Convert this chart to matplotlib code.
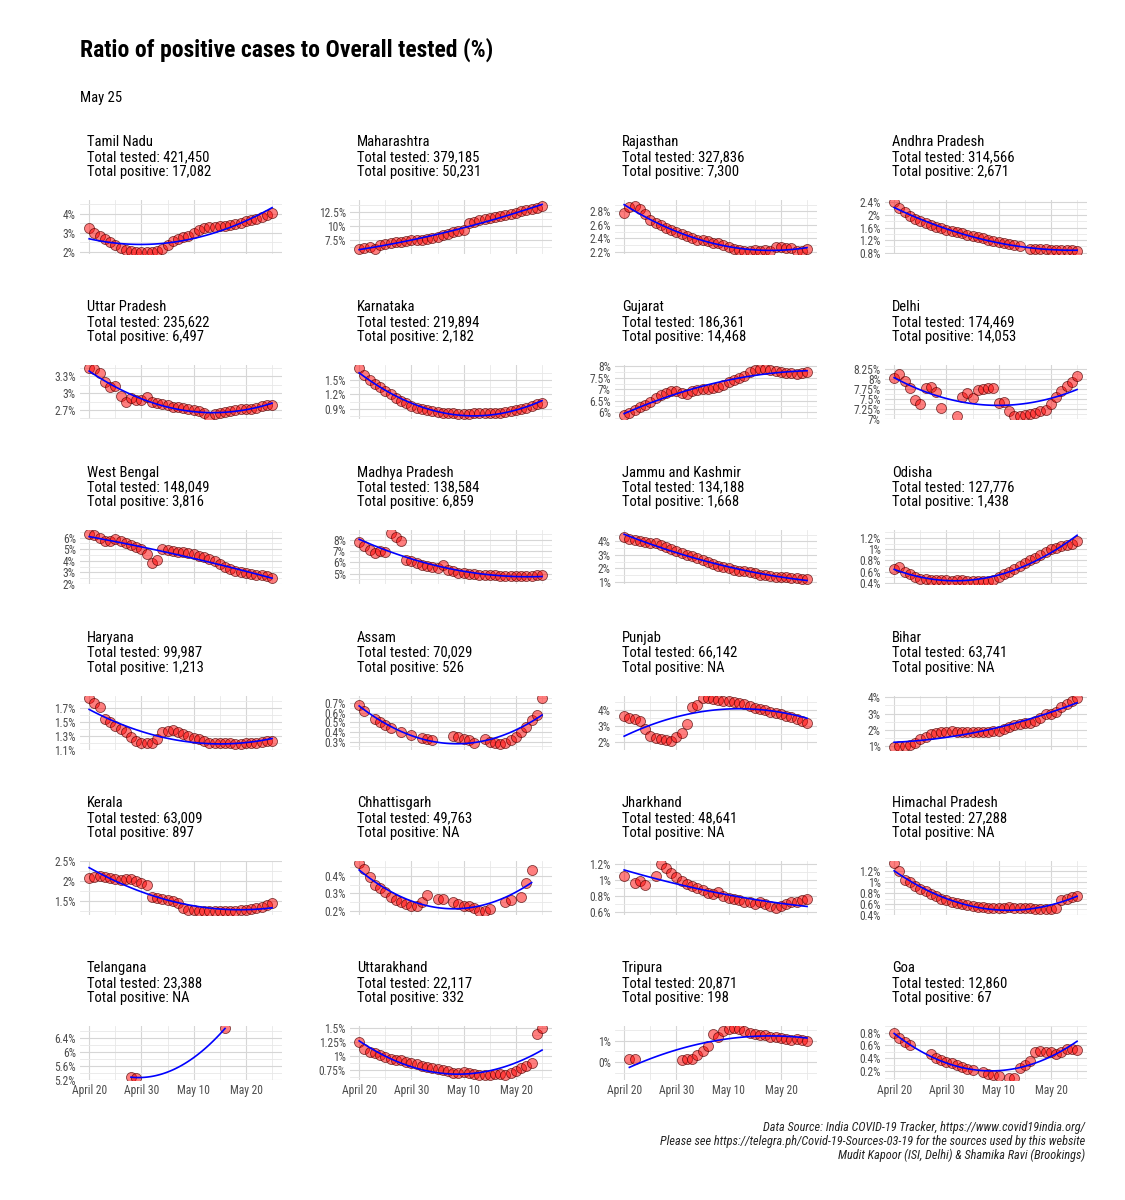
import numpy as np
import pandas as pd
import matplotlib
matplotlib.use('Agg')
import matplotlib.pyplot as plt

plt.rcParams['font.family'] = ['Roboto Condensed', 'Liberation Sans', 'DejaVu Sans']

nan = np.nan

# dates: April 20 .. May 25
dates = pd.date_range('2020-04-20', '2020-05-25', freq='D')
x_tick_days = [0, 10, 20, 30]
x_tick_labels = ['April 20', 'April 30', 'May 10', 'May 20']
x_minor_days = [5, 15, 25, 35]

states = ['Tamil Nadu', 'Maharashtra', 'Rajasthan', 'Andhra Pradesh',
          'Uttar Pradesh', 'Karnataka', 'Gujarat', 'Delhi',
          'West Bengal', 'Madhya Pradesh', 'Jammu and Kashmir', 'Odisha',
          'Haryana', 'Assam', 'Punjab', 'Bihar',
          'Kerala', 'Chhattisgarh', 'Jharkhand', 'Himachal Pradesh',
          'Telangana', 'Uttarakhand', 'Tripura', 'Goa']
total_tested = ['421,450', '379,185', '327,836', '314,566',
                '235,622', '219,894', '186,361', '174,469',
                '148,049', '138,584', '134,188', '127,776',
                '99,987', '70,029', '66,142', '63,741',
                '63,009', '49,763', '48,641', '27,288',
                '23,388', '22,117', '20,871', '12,860']
total_positive = ['17,082', '50,231', '7,300', '2,671',
                  '6,497', '2,182', '14,468', '14,053',
                  '3,816', '6,859', '1,668', '1,438',
                  '1,213', '526', 'NA', 'NA',
                  '897', 'NA', 'NA', 'NA',
                  'NA', '332', '198', '67']

# ratio of positive to tested (%), one value per day
tamil_nadu = [3.25, 3.0, 2.8, 2.65, 2.5, 2.35, 2.2, 2.1, 2.03, 2.0, 2.0, 2.0, 2.0, 2.02, 2.15, 2.35, 2.55, 2.65,
              2.75, 2.85, 3.0, 3.15, 3.25, 3.3, 3.3, 3.35, 3.35, 3.4, 3.45, 3.5, 3.6, 3.65, 3.75, 3.85, 3.95, 4.05]
maharashtra = [5.8, 6.1, 6.2, 5.8, 6.6, 6.8, 7.0, 7.2, 7.1, 7.3, 7.4, 7.5, 7.5, 7.7, 7.8, 8.0, 8.3, 8.6,
               8.9, 9.1, 9.3, 10.6, 10.8, 11.0, 11.2, 11.4, 11.6, 11.8, 12.0, 12.2, 12.4, 12.6, 12.8, 13.0, 13.2, 13.5]
rajasthan = [2.78, 2.87, 2.88, 2.83, 2.76, 2.68, 2.63, 2.6, 2.56, 2.52, 2.49, 2.46, 2.43, 2.41, 2.38, 2.37, 2.36, 2.34,
             2.33, 2.3, 2.28, 2.25, 2.23, 2.22, 2.22, 2.23, 2.22, 2.23, 2.22, 2.28, 2.27, 2.26, 2.26, 2.22, 2.22, 2.24]
andhra = [2.4, 2.22, 2.08, 1.97, 1.88, 1.8, 1.74, 1.68, 1.62, 1.58, 1.53, 1.49, 1.45, 1.41, 1.37, 1.33, 1.29, 1.25,
          1.21, 1.17, 1.14, 1.11, 1.07, 1.04, 1.0, nan, 0.93, 0.92, 0.91, 0.9, 0.89, 0.88, 0.88, 0.87, 0.87, 0.86]
uttar_pradesh = [3.45, 3.42, 3.35, 3.2, 3.1, 3.12, 2.95, 2.85, 2.92, 2.87, 2.88, 2.93, 2.85, 2.82, 2.8, 2.78, 2.76, 2.75,
                 2.73, 2.72, 2.7, 2.68, 2.65, 2.58, 2.63, 2.65, 2.66, 2.68, 2.7, 2.72, 2.72, 2.71, 2.74, 2.77, 2.78, 2.78]
karnataka = [1.75, 1.6, 1.5, 1.42, 1.35, 1.28, 1.2, 1.13, 1.07, 1.02, 0.97, 0.93, 0.9, 0.87, 0.85, 0.83, 0.82, 0.81,
             0.81, 0.8, 0.8, 0.8, 0.81, 0.81, 0.81, 0.81, 0.82, 0.82, 0.84, 0.86, 0.88, 0.9, 0.93, 0.96, 1.0, 1.02]
gujarat = [5.85, 5.95, 6.1, 6.2, 6.3, 6.45, 6.6, 6.75, 6.85, 6.9, 6.9, 6.85, 6.8, 6.9, 6.95, 7.0, 7.0, 7.05,
           7.1, 7.2, 7.3, 7.4, 7.5, 7.6, 7.75, 7.85, 7.9, 7.9, 7.85, 7.8, 7.75, 7.7, 7.7, 7.65, 7.7, 7.75]
delhi = [8.04, 8.12, 7.96, 7.78, 7.48, 7.38, 7.78, 7.8, 7.67, 7.28, nan, nan, 7.08, 7.55, 7.66, 7.53, 7.72, 7.76,
         7.78, 7.78, 7.4, 7.42, 7.2, 7.07, 7.08, 7.1, 7.12, 7.15, 7.2, 7.22, 7.37, 7.55, 7.7, 7.82, 7.92, 8.07]
west_bengal = [6.3, 6.2, 6.0, 5.75, 5.7, 5.85, 5.7, 5.55, 5.4, 5.2, 5.0, 4.6, 3.8, 4.05, 5.0, 4.9, 4.85, 4.8,
               4.75, 4.65, 4.55, 4.45, 4.3, 4.15, 3.95, 3.7, 3.45, 3.25, 3.1, 3.0, 2.9, 2.85, 2.8, 2.75, 2.65, 2.55]
madhya_pradesh = [7.8, 7.4, 7.1, 6.8, 7.0, 6.9, 8.6, 8.2, 7.9, 6.2, 6.1, 5.9, 5.8, 5.7, 5.6, 5.5, 5.8, 5.3,
                  5.2, 5.1, 5.05, 5.0, 4.95, 4.9, 4.9, 4.85, 4.85, 4.8, 4.75, 4.75, 4.75, 4.75, 4.8, 4.8, 4.85, 4.9]
jammu_kashmir = [4.3, 4.2, 4.1, 4.0, 3.95, 3.9, 3.85, 3.75, 3.6, 3.45, 3.3, 3.15, 3.0, 2.9, 2.75, 2.6, 2.5, 2.35,
                 2.2, 2.1, 2.0, 1.9, 1.85, 1.8, 1.75, 1.65, 1.55, 1.5, 1.45, 1.4, 1.38, 1.35, 1.3, 1.28, 1.25, 1.22]
odisha = [0.65, 0.68, 0.6, 0.55, 0.5, 0.47, 0.46, 0.45, 0.45, 0.45, 0.45, 0.44, 0.45, 0.45, 0.44, 0.44, 0.43, 0.43,
          0.43, 0.45, 0.5, 0.55, 0.6, 0.65, 0.7, 0.75, 0.8, 0.85, 0.9, 0.95, 1.0, 1.02, 1.05, 1.08, 1.1, 1.15]
haryana = [1.85, 1.78, 1.72, 1.55, 1.5, 1.45, 1.4, 1.35, 1.28, 1.22, 1.2, 1.2, 1.2, 1.25, 1.35, 1.37, 1.38, 1.35,
           1.32, 1.3, 1.27, 1.25, 1.22, 1.2, 1.2, 1.19, 1.19, 1.19, 1.18, 1.18, 1.19, 1.2, 1.2, 1.21, 1.22, 1.22]
assam = [0.68, 0.62, nan, 0.53, 0.5, 0.47, 0.44, nan, 0.4, nan, 0.37, nan, 0.34, 0.33, 0.32, nan, nan, nan,
         0.36, 0.35, 0.33, 0.32, 0.28, nan, 0.33, 0.3, 0.29, 0.27, 0.29, 0.32, 0.35, 0.4, 0.45, 0.52, 0.57, 0.75]
punjab = [3.65, 3.5, 3.42, 3.35, 2.85, 2.38, 2.27, 2.2, 2.12, 2.05, 2.3, 2.55, 3.15, 4.2, 4.3, 4.75, 4.75, 4.72,
          4.62, 4.58, 4.55, 4.52, 4.45, 4.35, 4.25, 4.15, 4.05, 3.98, 3.9, 3.82, 3.75, 3.65, 3.55, 3.45, 3.35, 3.22]
bihar = [0.95, 1.0, 1.05, 1.1, 1.2, 1.45, 1.55, 1.75, 1.8, 1.85, 1.85, 1.95, 1.85, 1.85, 1.85, 1.85, 1.9, 1.85,
         1.85, 1.95, 1.95, 2.05, 2.2, 2.3, 2.35, 2.4, 2.45, 2.55, 2.75, 3.0, 3.0, 3.1, 3.4, 3.6, 3.8, 3.95]
kerala = [2.07, 2.1, 2.12, 2.1, 2.07, 2.05, 2.02, 2.04, 2.05, 2.0, 1.95, 1.9, 1.6, 1.57, 1.55, 1.52, 1.5, 1.45,
          1.32, 1.28, 1.27, 1.26, 1.26, 1.26, 1.26, 1.26, 1.26, 1.26, 1.26, 1.27, 1.28, 1.3, 1.33, 1.36, 1.4, 1.45]
chhattisgarh = [0.47, 0.44, 0.39, 0.35, 0.33, 0.31, 0.28, 0.26, 0.25, 0.24, 0.23, 0.23, 0.25, 0.29, nan, 0.27, 0.27, nan,
                0.25, 0.24, 0.23, 0.23, 0.22, 0.2, 0.2, 0.21, nan, nan, 0.25, 0.26, nan, 0.28, 0.36, 0.43, nan, nan]
jharkhand = [1.05, nan, 0.96, 0.99, 0.93, nan, 1.05, 1.2, 1.15, 1.08, 1.03, 0.98, 0.95, 0.92, 0.9, 0.87, 0.84, 0.82,
             0.85, 0.8, 0.78, 0.76, 0.75, 0.73, 0.72, 0.7, 0.72, 0.7, 0.68, 0.65, 0.68, 0.7, 0.72, 0.73, 0.75, 0.76]
himachal = [1.35, 1.2, 1.05, 1.0, 0.93, 0.87, 0.83, 0.78, 0.74, 0.7, 0.67, 0.64, 0.62, 0.6, 0.58, 0.56, 0.55, 0.54,
            0.53, 0.53, 0.53, 0.53, 0.54, 0.53, 0.52, 0.52, 0.52, 0.51, 0.5, 0.5, 0.5, 0.52, 0.68, 0.7, 0.72, 0.75]
telangana = [nan, nan, nan, nan, nan, nan, nan, nan, 5.28, 5.27, nan, nan, nan, nan, nan, nan, nan, nan,
             nan, nan, nan, nan, nan, nan, nan, nan, 6.68, nan, nan, nan, nan, nan, nan, nan, nan, nan]
uttarakhand = [1.25, 1.12, 1.08, 1.05, 1.02, 0.98, 0.95, 0.93, 0.92, 0.9, 0.88, 0.85, 0.82, 0.8, 0.78, 0.76, 0.75, 0.73,
               0.7, 0.7, 0.72, 0.7, 0.68, 0.66, 0.65, 0.66, 0.68, 0.68, 0.66, 0.7, 0.73, 0.78, 0.82, 0.88, 1.4, 1.5]
tripura = [nan, 0.15, 0.13, nan, nan, nan, nan, nan, nan, nan, nan, 0.1, 0.15, 0.15, 0.34, 0.53, 0.74, 1.31,
           1.19, 1.47, 1.55, 1.58, 1.55, 1.44, 1.36, 1.31, 1.29, 1.26, 1.19, 1.18, 1.15, 1.1, 1.06, 1.1, 1.05, 1.0]
goa = [0.8, 0.72, 0.65, 0.6, nan, nan, nan, 0.47, 0.4, 0.37, 0.34, 0.32, 0.3, 0.27, 0.24, 0.21, nan, 0.18,
       0.16, 0.14, 0.13, nan, 0.1, 0.1, 0.25, 0.3, 0.35, 0.5, 0.51, 0.5, 0.5, 0.47, 0.5, 0.55, 0.55, 0.53]

series = [tamil_nadu, maharashtra, rajasthan, andhra,
          uttar_pradesh, karnataka, gujarat, delhi,
          west_bengal, madhya_pradesh, jammu_kashmir, odisha,
          haryana, assam, punjab, bihar,
          kerala, chhattisgarh, jharkhand, himachal,
          telangana, uttarakhand, tripura, goa]

y_ticks = [[2, 3, 4], [7.5, 10, 12.5], [2.2, 2.4, 2.6, 2.8], [0.8, 1.2, 1.6, 2, 2.4],
           [2.7, 3, 3.3], [0.9, 1.2, 1.5], [6, 6.5, 7, 7.5, 8], [7, 7.25, 7.5, 7.75, 8, 8.25],
           [2, 3, 4, 5, 6], [5, 6, 7, 8], [1, 2, 3, 4], [0.4, 0.6, 0.8, 1, 1.2],
           [1.1, 1.3, 1.5, 1.7], [0.3, 0.4, 0.5, 0.6, 0.7], [2, 3, 4], [1, 2, 3, 4],
           [1.5, 2, 2.5], [0.2, 0.3, 0.4], [0.6, 0.8, 1, 1.2], [0.4, 0.6, 0.8, 1, 1.2],
           [5.2, 5.6, 6, 6.4], [0.75, 1, 1.25, 1.5], [0, 1], [0.2, 0.4, 0.6, 0.8]]

days = np.asarray((dates - dates[0]).days, dtype=float)


def quad_smooth(x, y):
    # y ~ poly(x, 2) with 95% band (band only used for axis range)
    ok = ~np.isnan(y)
    xs, ys = x[ok], y[ok]
    X = np.vander(xs, 3)
    beta = np.linalg.lstsq(X, ys, rcond=None)[0]
    xg = np.linspace(xs.min(), xs.max(), 80)
    Xg = np.vander(xg, 3)
    yg = Xg @ beta
    df = len(xs) - 3
    if df > 0:
        s2 = np.sum((ys - X @ beta) ** 2) / df
        cov = s2 * np.linalg.inv(X.T @ X)
        se = np.sqrt(np.einsum('ij,jk,ik->i', Xg, cov, Xg))
        z = 1.959964
        t = z + (z**3 + z) / (4 * df) + (5 * z**5 + 16 * z**3 + 3 * z) / (96 * df**2)
        lo, hi = yg - t * se, yg + t * se
    else:
        lo, hi = yg, yg
    return xg, yg, lo, hi


W, H = 1125, 1200
fig = plt.figure(figsize=(W / 100, H / 100), dpi=100)

col_left = [80, 350, 615, 885]
ax_w = 202
row_top0, row_step, ax_h = 200, 165.2, 54
grey_txt = '#4d4d4d'

for i, name in enumerate(states):
    r, c = divmod(i, 4)
    top = row_top0 + r * row_step
    ax = fig.add_axes([col_left[c] / W, 1 - (top + ax_h) / H, ax_w / W, ax_h / H])
    y = np.array(series[i], dtype=float)
    xg, yg, lo, hi = quad_smooth(days, y)

    ax.scatter(days, y, s=52, facecolor=(1, 0, 0, 0.5), edgecolor=(0.3, 0, 0, 0.7),
               linewidth=0.6, zorder=3)
    ax.plot(xg, yg, color='#0000ff', lw=1.2, zorder=4)

    ymin = min(np.nanmin(y), lo.min())
    ymax = max(np.nanmax(y), hi.max())
    rng = ymax - ymin
    ax.set_ylim(ymin - 0.05 * rng, ymax + 0.05 * rng)
    ax.set_xlim(-1.75, 36.9)

    ticks = y_ticks[i]
    step = ticks[1] - ticks[0]
    lo_l, hi_l = ax.get_ylim()
    minor = [v for v in np.arange(ticks[0] - step / 2, ticks[-1] + step, step) if lo_l <= v <= hi_l]
    ax.set_yticks(ticks)
    ax.set_yticklabels([f'{v:g}%' for v in ticks])
    ax.set_yticks(minor, minor=True)
    ax.set_xticks(x_tick_days)
    ax.set_xticks(x_minor_days, minor=True)
    if r == 5:
        ax.set_xticklabels(x_tick_labels)
    else:
        ax.set_xticklabels([])

    ax.grid(which='major', color='#d6d6d6', lw=0.8)
    ax.grid(which='minor', color='#e8e8e8', lw=0.6)
    ax.set_axisbelow(True)
    ax.tick_params(which='both', length=0, labelsize=8.3, colors=grey_txt, pad=3)
    for s in ax.spines.values():
        s.set_visible(False)

    fig.text((col_left[c] + 7) / W, 1 - (top - 21) / H,
             f'{name}\nTotal tested: {total_tested[i]}\nTotal positive: {total_positive[i]}',
             ha='left', va='bottom', fontsize=10.5, linespacing=1.08, color='black')

fig.text(80 / W, 1 - 50 / H, 'Ratio of positive cases to Overall tested (%)',
         fontsize=17, fontweight='bold', ha='left', va='center')
fig.text(80 / W, 1 - 98 / H, 'May 25', fontsize=10.5, ha='left', va='center')

caption = ['Data Source: India COVID-19 Tracker, https://www.covid19india.org/',
           'Please see https://telegra.ph/Covid-19-Sources-03-19 for the sources used by this website',
           'Mudit Kapoor (ISI, Delhi) & Shamika Ravi (Brookings)']
for k, line in enumerate(caption):
    fig.text(1085 / W, 1 - (1128 + 13.5 * k) / H, line, fontsize=8.8, style='italic',
             ha='right', va='center', color='#222222')

fig.savefig('out.png', dpi=100, facecolor='white')
